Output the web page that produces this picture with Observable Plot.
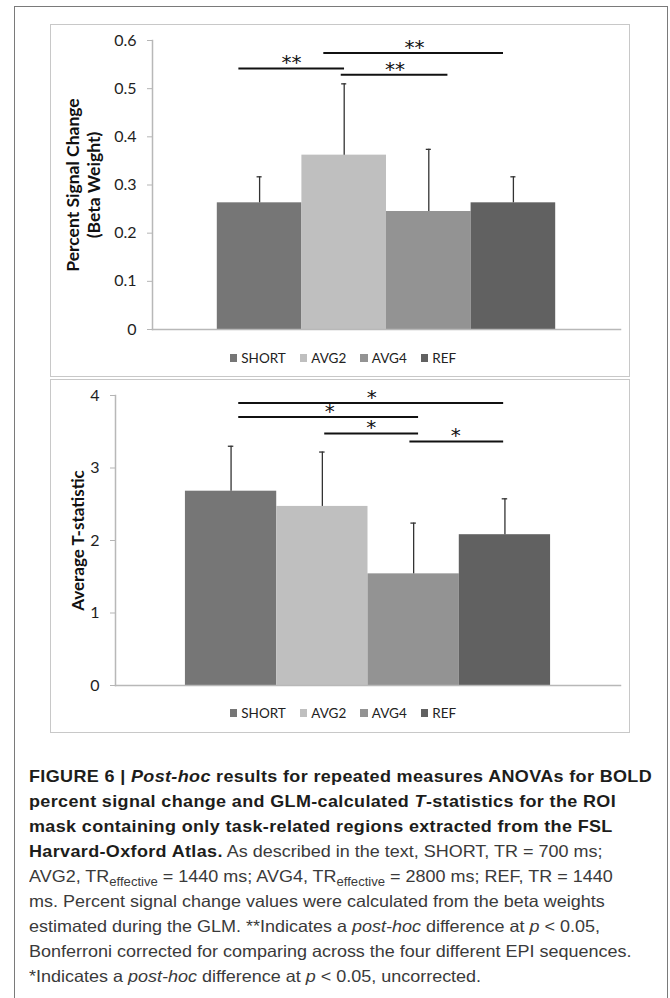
<!DOCTYPE html>
<html><head><meta charset="utf-8">
<script src="https://cdn.jsdelivr.net/npm/d3@7"></script>
<script src="https://cdn.jsdelivr.net/npm/@observablehq/plot@0.6"></script>
<style>
body{margin:0;background:#fff;}
#page{position:relative;width:670px;height:998px;overflow:hidden;background:#fff;font-family:Lato,"Open Sans",sans-serif;}
#frame{position:absolute;left:14px;top:6px;width:654px;height:1100px;border:1px solid #7a7a7a;box-sizing:border-box;}
.panel{position:absolute;left:50px;width:580px;border:1.5px solid #c8c8c8;box-sizing:border-box;}
.chart{position:absolute;left:50px;width:580px;}
.chart svg{display:block;overflow:visible;}
.legend{display:flex;justify-content:center;align-items:center;font-family:Lato,sans-serif;font-size:13.5px;color:#222;height:18px;padding-left:6px;}
.legend .item{display:flex;align-items:center;margin:0 7px;}
.legend .sw{width:7.5px;height:7.5px;margin-right:4px;}
[aria-label="y-axis tick"]{color:#b5b5b5;}
[aria-label="y-axis tick label"]{color:#1e1e1e;}
#caption{position:absolute;left:29px;top:764px;font-family:"Liberation Sans",Arial,sans-serif;font-size:16.5px;line-height:25px;color:#3a3a3a;white-space:nowrap;transform:scaleX(1.09);transform-origin:0 0;}
#caption b{color:#1d1d1b;letter-spacing:0.33px;}
#caption sub{font-size:12px;vertical-align:-4px;line-height:0;}
</style>
</head><body>
<div id="page">
  <div id="frame"></div>
  <div class="panel" style="top:24px;height:353px;"></div>
  <div class="panel" style="top:379px;height:354px;"></div>
  <div class="chart" id="top" style="top:24px;"></div>
  <div class="chart" id="bottom" style="top:379px;"></div>
  <div id="caption">
    <div><b>FIGURE 6 | <i>Post-hoc</i> results for repeated measures ANOVAs for BOLD</b></div>
    <div><b>percent signal change and GLM-calculated <i>T</i>-statistics for the ROI</b></div>
    <div><b>mask containing only task-related regions extracted from the FSL</b></div>
    <div><b>Harvard-Oxford Atlas.</b> As described in the text, SHORT, TR = 700 ms;</div>
    <div>AVG2, TR<sub>effective</sub> = 1440 ms; AVG4, TR<sub>effective</sub> = 2800 ms; REF, TR = 1440</div>
    <div>ms. Percent signal change values were calculated from the beta weights</div>
    <div>estimated during the GLM. **Indicates a <i>post-hoc</i> difference at <i>p</i> &lt; 0.05,</div>
    <div>Bonferroni corrected for comparing across the four different EPI sequences.</div>
    <div>*Indicates a <i>post-hoc</i> difference at <i>p</i> &lt; 0.05, uncorrected.</div>
  </div>
</div>
<script>
// ---- data ----
const categories = ["SHORT", "AVG2", "AVG4", "REF"];
const colors = ["#767676", "#bfbfbf", "#939393", "#616161"];

const pscMean = [0.263, 0.362, 0.245, 0.263];
const pscErr  = [0.054, 0.148, 0.129, 0.054];
const pscTicks = [0, 0.1, 0.2, 0.3, 0.4, 0.5, 0.6];

const tMean = [2.68, 2.47, 1.54, 2.08];
const tErr  = [0.62, 0.75, 0.70, 0.495];
const tTicks = [0, 1, 2, 3, 4];

// significance brackets (x in category-index units, y in data units)
const pscSigX1 = [-0.245, 0.965, 0.759];
const pscSigX2 = [1.004, 2.226, 2.883];
const pscSigY  = [0.542, 0.529, 0.574];
const pscSigLabelX = [0.378, 1.60, 1.83];
const pscSigLabel  = ["**", "**", "**"];

const tSigX1 = [0.084, 0.084, 1.026, 1.959];
const tSigX2 = [2.986, 2.054, 2.054, 2.986];
const tSigY  = [3.895, 3.702, 3.476, 3.366];
const tSigLabelX = [1.541, 1.081, 1.535, 2.461];
const tSigLabel  = ["*", "*", "*", "*"];

function makeChart(opts) {
  const rows = categories.map((c, i) => ({cat: c, i, mean: opts.mean[i], err: opts.err[i]}));
  const sig = opts.sigX1.map((x1, k) => ({x1, x2: opts.sigX2[k], y: opts.sigY[k], lx: opts.sigLX[k], label: opts.sigLabel[k]}));
  const yMax = opts.ticks[opts.ticks.length - 1];
  return Plot.plot({
    width: 580,
    height: opts.height,
    marginLeft: opts.marginLeft,
    marginRight: 10,
    marginTop: 16,
    marginBottom: opts.height - 16 - opts.plotH,
    style: {fontFamily: "Lato, sans-serif", background: "transparent", overflow: "visible"},
    x: {domain: [-1.266, 4.266], axis: null},
    y: {domain: [0, yMax], axis: null},
    color: {domain: categories, range: colors},
    marks: [
      Plot.rectY(rows, {x1: d => d.i - 0.5, x2: d => d.i + 0.5, y1: 0, y2: "mean", fill: "cat"}),
      Plot.ruleX(rows, {x: "i", y1: "mean", y2: d => d.mean + d.err, stroke: "#333", strokeWidth: 1.3}),
      Plot.ruleY(rows, {x1: d => d.i - 0.03, x2: d => d.i + 0.03, y: d => d.mean + d.err, stroke: "#333", strokeWidth: 1.3}),
      Plot.frame({anchor: "left", stroke: "#b8b8b8", strokeWidth: 1.5}),
      Plot.frame({anchor: "bottom", stroke: "#b8b8b8", strokeWidth: 1.5}),
      Plot.axisY({ticks: opts.ticks, tickFormat: d => String(d), tickSize: 5, tickPadding: 11, fontSize: 16, label: null}),
      Plot.text([opts.yLabel], {text: d => d, frameAnchor: "left", textAnchor: "middle", lineAnchor: "middle", rotate: -90, dx: opts.labelDx, fontSize: opts.labelSize, fontWeight: "bold", lineHeight: 1.25, fill: "#111"}),
      Plot.ruleY(sig, {x1: "x1", x2: "x2", y: "y", stroke: "#111", strokeWidth: 2}),
      Plot.text(sig, {x: "lx", y: "y", text: "label", fontFamily: "DejaVu Sans", fontSize: 20, lineAnchor: "bottom", dy: 1, fill: "#111"})
    ]
  });
}

function makeLegend() {
  const div = document.createElement("div");
  div.className = "legend";
  categories.forEach((c, i) => {
    const it = document.createElement("div");
    it.className = "item";
    const sw = document.createElement("span");
    sw.className = "sw";
    sw.style.background = colors[i];
    const t = document.createElement("span");
    t.textContent = c;
    it.appendChild(sw); it.appendChild(t);
    div.appendChild(it);
  });
  return div;
}

const topEl = document.getElementById("top");
topEl.appendChild(makeChart({
  mean: pscMean, err: pscErr, ticks: pscTicks, height: 315, plotH: 289, marginLeft: 102,
  sigX1: pscSigX1, sigX2: pscSigX2, sigY: pscSigY, sigLX: pscSigLabelX, sigLabel: pscSigLabel,
  yLabel: "Percent Signal Change\n(Beta Weight)", labelDx: -70, labelSize: 17.5
}));
const lg1 = makeLegend(); lg1.style.marginTop = "10px"; topEl.appendChild(lg1);

const botEl = document.getElementById("bottom");
botEl.appendChild(makeChart({
  mean: tMean, err: tErr, ticks: tTicks, height: 316, plotH: 290, marginLeft: 65,
  sigX1: tSigX1, sigX2: tSigX2, sigY: tSigY, sigLX: tSigLabelX, sigLabel: tSigLabel,
  yLabel: "Average T-statistic", labelDx: -38, labelSize: 17
}));
const lg2 = makeLegend(); lg2.style.marginTop = "9px"; botEl.appendChild(lg2);
</script>
</body></html>
